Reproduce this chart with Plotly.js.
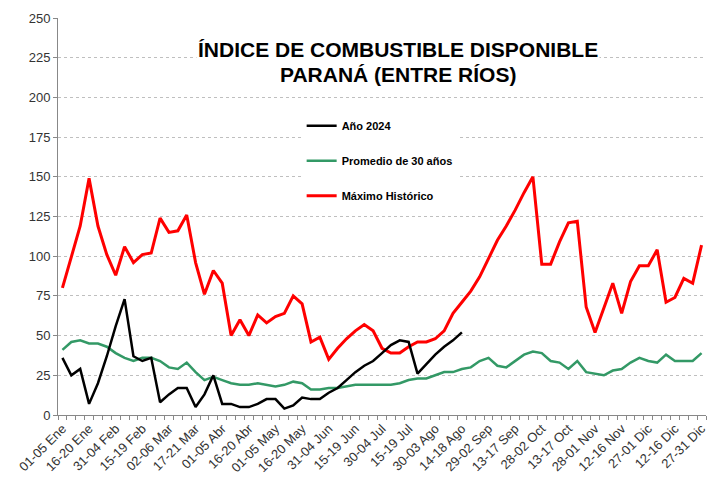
<!DOCTYPE html>
<html>
<head>
<meta charset="utf-8">
<script src="https://cdn.plot.ly/plotly-3.0.1.min.js"></script>
<style>html,body{margin:0;padding:0;background:#fff;}#chart{width:710px;height:481px;}</style>
</head>
<body>
<div id="chart"></div>
<script>
// Tick labels shown on the x axis (every third pentad)
const tickLabels = ["01-05 Ene","16-20 Ene","31-04 Feb","15-19 Feb","02-06 Mar","17-21 Mar","01-05 Abr","16-20 Abr","01-05 May","16-20 May","31-04 Jun","15-19 Jun","30-04 Jul","15-19 Jul","30-03 Ago","14-18 Ago","29-02 Sep","13-17 Sep","28-02 Oct","13-17 Oct","28-01 Nov","12-16 Nov","27-01 Dic","12-16 Dic","27-31 Dic"];

// Series values, one per pentad (73 pentads)
const maximoHistorico = [80,99,119,149,119,101,88,106,96,101,102,124,115,116,126,
  96,76,91,83,50,60,50,63,58,62,64,75,70,46,
  49,35,42,48,53,57,53,42,39,39,43,46,46,48,53,
  64,71,78,87,98,110,119,129,140,150,95,95,109,121,122,
  68,52,68,83,64,84,94,94,104,71,74,86,83,107];
const promedio30 = [41,46,47,45,45,43,39,36,34,36,36,34,30,29,33,
  27,22,24,22,20,19,19,20,19,18,19,21,20,16,16,
  17,17,18,19,19,19,19,19,20,22,23,23,25,27,
  27,29,30,34,36,31,30,34,38,40,39,34,33,29,34,
  27,26,25,28,29,33,36,34,33,38,34,34,34,39];
const anio2024 = [36,25,29,7,20,37,56,73,37,34,36,8,13,17,17,
  5,13,25,7,7,5,5,7,10,10,4,6,11,10,10,
  14,17,22,27,31,34,39,44,47,46,26,32,38,43,47,52];

const titleLines = ["ÍNDICE DE COMBUSTIBLE DISPONIBLE", "PARANÁ (ENTRE RÍOS)"];

const idx = n => Array.from({length:n}, (_, i) => i);
const tickVals = tickLabels.map((_, k) => k * 3);
const nCat = maximoHistorico.length;

const traces = [
  {x: idx(promedio30.length), y: promedio30, name: "Promedio de 30 años", type: "scatter", mode: "lines",
   line: {color: "#339966", width: 2.5}, legendgroup: "b", legendrank: 2},
  {x: idx(maximoHistorico.length), y: maximoHistorico, name: "Máximo Histórico", type: "scatter", mode: "lines",
   line: {color: "#FF0000", width: 3}, legendgroup: "c", legendrank: 3},
  {x: idx(anio2024.length), y: anio2024, name: "Año 2024", type: "scatter", mode: "lines",
   line: {color: "#000000", width: 2.5}, legendgroup: "a", legendrank: 1}
];

const font = "Liberation Sans, Arial, sans-serif";
const layout = {
  width: 710, height: 481,
  margin: {l: 58, r: 4, t: 18, b: 66},
  paper_bgcolor: "#fff", plot_bgcolor: "#fff",
  font: {family: font, color: "#333"},
  showlegend: true,
  legend: {x: 0.376, y: 0.765, xanchor: "left", yanchor: "top", bgcolor: "#fff",
           font: {size: 11, color: "#000", family: font, weight: "bold"},
           traceorder: "grouped", tracegroupgap: 16, entrywidth: 180},
  annotations: [
    {text: "<b>" + titleLines[0] + "</b>", xref: "paper", yref: "paper",
     x: (398 - 58) / 648, y: (415 - 50) / 397, xanchor: "center", yanchor: "middle",
     showarrow: false, bgcolor: "#fff", font: {size: 21, color: "#000", family: font}},
    {text: "<b>" + titleLines[1] + "</b>", xref: "paper", yref: "paper",
     x: (398 - 58) / 648, y: (415 - 74) / 397, xanchor: "center", yanchor: "middle",
     showarrow: false, bgcolor: "#fff", font: {size: 21, color: "#000", family: font}}
  ],
  xaxis: {
    range: [-0.5, nCat - 0.5],
    tickmode: "array", tickvals: tickVals, ticktext: tickLabels, tickangle: -45,
    ticklabeloverflow: "allow",
    ticks: "", showgrid: false, zeroline: false,
    showline: true, linecolor: "#888", linewidth: 1,
    tickfont: {size: 13, color: "#333"},
    minor: {tickmode: "linear", tick0: -0.5, dtick: 1, ticks: "outside", ticklen: 4, tickcolor: "#888", showgrid: false}
  },
  yaxis: {
    range: [0, 250], dtick: 25, tick0: 0,
    ticks: "outside", ticklen: 4, tickcolor: "#888",
    showgrid: true, gridcolor: "#BFBFBF", griddash: "dot", gridwidth: 1,
    zeroline: false, showline: true, linecolor: "#888", linewidth: 1,
    tickfont: {size: 13, color: "#333"}
  }
};

Plotly.newPlot("chart", traces, layout, {displayModeBar: false, staticPlot: true});
</script>
</body>
</html>
